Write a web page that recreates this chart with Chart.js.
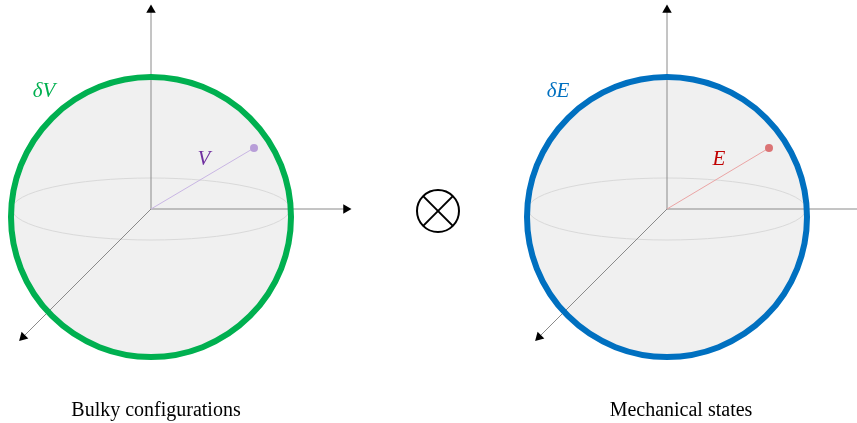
<!DOCTYPE html>
<html>
<head>
<meta charset="utf-8">
<script src="https://cdn.jsdelivr.net/npm/chart.js@4/dist/chart.umd.min.js"></script>
<style>
  html, body { margin: 0; padding: 0; background: #fff; }
  canvas { display: block; }
</style>
</head>
<body>
<canvas id="spaces" width="857" height="423"></canvas>
<script>
// two spaces, one sphere each (picture units: x right, y down)
const captions = ['Bulky configurations', 'Mechanical states'];
const captionX = [156, 681];
const captionY = [416, 416];
const centreX = [151, 667];
const centreY = [209, 209];
const sphereX = [151, 667];
const sphereY = [217, 217];
const sphereRadius = [140, 140];
const boundaryLabels = ['δV', 'δE'];
const boundaryLabelX = [44, 558];
const boundaryLabelY = [91, 91];
const stateLabels = ['V', 'E'];
const stateX = [254, 769];
const stateY = [148, 148];
const stateLabelX = [204, 719];
const stateLabelY = [159, 159];
// axis ends (where the arrow head sits)
const axisTopY = [10, 10];
const axisRightX = [346, 862];
const axisDiagX = [23, 539];
const axisDiagY = [337, 337];
const equatorY = [209, 209];
const equatorRx = [139, 139];
const equatorRy = [31, 31];
// the tensor product sign between the two spheres
const productX = 438;
const productY = 211;
const productRadius = 21;

const ringColors = ['#00b050', '#0070c0'];
const stateColors = ['#7030a0', '#c00000'];
const dotColors = ['#b89ed8', '#db7475'];
const rayColors = ['#c9b6e4', '#eba5a5'];
const axisGray = '#8a8a8a';

function rotationOf(x0, y0, x1, y1) {
    // pointStyle triangle points up at 0deg, clockwise on screen
    return Math.atan2(x1 - x0, -(y1 - y0)) * 180 / Math.PI;
}

function arrow(x0, y0, x1, y1, label) {
    return {
        type: 'line',
        label: label,
        data: [{x: x0, y: y0}, {x: x1, y: y1}],
        borderColor: axisGray,
        borderWidth: 1,
        pointStyle: 'triangle',
        pointRadius: [0, 5.5],
        rotation: [0, rotationOf(x0, y0, x1, y1)],
        pointBackgroundColor: '#000',
        pointBorderColor: '#000',
        pointBorderWidth: 0,
        clip: false,
        order: 3
    };
}

let datasets = [];

datasets.push({
    type: 'bubble',
    label: 'fill',
    data: sphereX.map((x, i) => ({x: x, y: sphereY[i], r: sphereRadius[i]})),
    backgroundColor: '#f0f0f0',
    borderWidth: 0,
    clip: false,
    order: 10
});

centreX.forEach((x, i) => {
    datasets.push(arrow(x, centreY[i], x, axisTopY[i], 'up'));
    datasets.push(arrow(x, centreY[i], axisRightX[i], centreY[i], 'right'));
    datasets.push(arrow(x, centreY[i], axisDiagX[i], axisDiagY[i], 'out'));
    datasets.push({
        type: 'line',
        label: stateLabels[i],
        data: [{x: x, y: centreY[i]}, {x: stateX[i], y: stateY[i]}],
        borderColor: rayColors[i],
        borderWidth: 1,
        pointRadius: [0, 4],
        pointBackgroundColor: dotColors[i],
        pointBorderWidth: 0,
        clip: false,
        order: 2
    });
});

datasets.push({
    type: 'bubble',
    label: 'ring',
    data: sphereX.map((x, i) => ({x: x, y: sphereY[i], r: sphereRadius[i]})),
    backgroundColor: 'rgba(0,0,0,0)',
    borderColor: ringColors,
    borderWidth: 6,
    clip: false,
    order: 1
});

datasets.push({
    type: 'bubble',
    label: 'otimes',
    data: [{x: productX, y: productY, r: productRadius}],
    backgroundColor: '#fff',
    borderColor: '#000',
    borderWidth: 2,
    clip: false,
    order: 1
});
const d = productRadius * Math.SQRT1_2;
[[-1, -1, 1, 1], [-1, 1, 1, -1]].forEach(s => {
    datasets.push({
        type: 'line',
        label: 'cross',
        data: [{x: productX + s[0] * d, y: productY + s[1] * d}, {x: productX + s[2] * d, y: productY + s[3] * d}],
        borderColor: '#000',
        borderWidth: 2,
        pointRadius: 0,
        clip: false,
        order: 0
    });
});

const sketchPlugin = {
    id: 'sketch',
    afterDatasetDraw(chart, args) {
        // equator ellipses right after the grey fill
        if (chart.data.datasets[args.index].label !== 'fill') return;
        const ctx = chart.ctx;
        const xs = chart.scales.x, ys = chart.scales.y;
        ctx.save();
        ctx.strokeStyle = '#d9d9d9';
        ctx.lineWidth = 1;
        centreX.forEach((x, i) => {
            const px = xs.getPixelForValue(x), py = ys.getPixelForValue(equatorY[i]);
            const rx = xs.getPixelForValue(x + equatorRx[i]) - px;
            const ry = ys.getPixelForValue(equatorY[i] + equatorRy[i]) - py;
            ctx.beginPath();
            ctx.ellipse(px, py, Math.abs(rx), Math.abs(ry), 0, 0, Math.PI * 2);
            ctx.stroke();
        });
        ctx.restore();
    },
    afterDraw(chart) {
        const ctx = chart.ctx;
        const xs = chart.scales.x, ys = chart.scales.y;
        ctx.save();
        ctx.textAlign = 'center';
        centreX.forEach((x, i) => {
            ctx.textBaseline = 'middle';
            ctx.font = 'italic 21px "Liberation Serif"';
            ctx.fillStyle = ringColors[i];
            ctx.fillText(boundaryLabels[i], xs.getPixelForValue(boundaryLabelX[i]), ys.getPixelForValue(boundaryLabelY[i]));
            ctx.fillStyle = stateColors[i];
            ctx.fillText(stateLabels[i], xs.getPixelForValue(stateLabelX[i]), ys.getPixelForValue(stateLabelY[i]));
            ctx.font = '20px "Liberation Serif"';
            ctx.fillStyle = '#000';
            ctx.textBaseline = 'alphabetic';
            ctx.fillText(captions[i], xs.getPixelForValue(captionX[i]), ys.getPixelForValue(captionY[i]));
        });
        ctx.restore();
    }
};

new Chart(document.getElementById('spaces'), {
    type: 'scatter',
    data: {datasets: datasets},
    options: {
        responsive: false,
        animation: false,
        events: [],
        layout: {padding: 0, autoPadding: false},
        plugins: {legend: {display: false}, tooltip: {enabled: false}},
        scales: {
            x: {type: 'linear', min: 0, max: 857, display: false},
            y: {type: 'linear', min: 0, max: 423, reverse: true, display: false}
        }
    },
    plugins: [sketchPlugin]
});
</script>
</body>
</html>
